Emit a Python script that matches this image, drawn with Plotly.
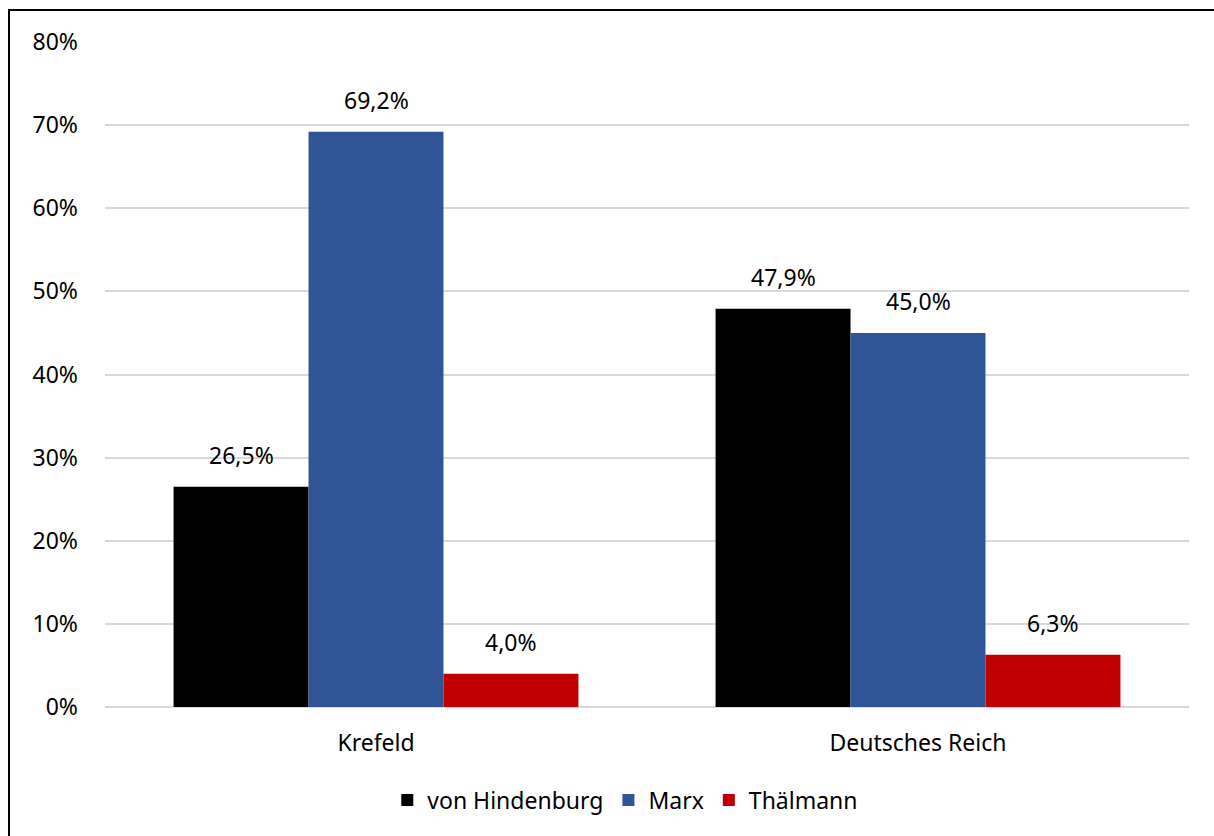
import plotly.graph_objects as go

categories = ["Krefeld", "Deutsches Reich"]
series_names = ["von Hindenburg", "Marx", "Thälmann"]
hindenburg = [26.5, 47.9]
marx = [69.2, 45.0]
thaelmann = [4.0, 6.3]
colors = ["#000000", "#2F5597", "#C00000"]
tick_vals = [0, 10, 20, 30, 40, 50, 60, 70, 80]
tick_text = ["0%", "10%", "20%", "30%", "40%", "50%", "60%", "70%", "80%"]

W, H = 1214, 836
ml, mr, mt, mb = 105, 25, 42, 129
pw, ph = W - ml - mr, H - mt - mb
BARGAP = 0.253
FONT = "Noto Sans, Open Sans, sans-serif"

fig = go.Figure()
all_series = [hindenburg, marx, thaelmann]
for name, vals, col in zip(series_names, all_series, colors):
    fig.add_trace(go.Bar(
        x=categories, y=vals, name=name, marker=dict(color=col, line=dict(width=0)),
        showlegend=False,
    ))
# legend entries as square markers
for name, col in zip(series_names, colors):
    fig.add_trace(go.Scatter(
        x=[categories[0]], y=[None], name=name, mode="markers",
        marker=dict(symbol="square", size=18, color=col), showlegend=True,
    ))

# data labels as annotations above bars
n = len(all_series)
bw = (1 - BARGAP) / n
annotations = []
for j, vals in enumerate(all_series):
    for i, v in enumerate(vals):
        annotations.append(dict(
            x=i + (j - (n - 1) / 2) * bw, y=v, xref="x", yref="y",
            text=f"{v:.1f}%".replace(".", ","), showarrow=False,
            yanchor="bottom", yshift=14, font=dict(size=23, color="#000000", family=FONT),
        ))

def px_x(p):
    return (p - ml) / pw

def px_y(p):
    return (H - mb - p) / ph

fig.update_layout(
    width=W, height=H,
    margin=dict(l=ml, r=mr, t=mt, b=mb),
    paper_bgcolor="white", plot_bgcolor="white",
    barmode="group", bargap=BARGAP, bargroupgap=0,
    font=dict(family=FONT, size=23, color="#000000"),
    showlegend=True,
    legend=dict(orientation="h", x=0.48, xanchor="center", y=px_y(800), yanchor="middle",
                font=dict(size=23), itemsizing="constant", traceorder="normal",
                itemwidth=30, entrywidthmode="pixels"),
    xaxis=dict(type="category", showline=False, ticks="", tickfont=dict(size=23),
               ticklabelstandoff=20),
    yaxis=dict(range=[0, 80], tickmode="array", tickvals=tick_vals, ticktext=tick_text,
               showgrid=True, gridcolor="#D9D9D9", gridwidth=1.5, zeroline=True,
               zerolinecolor="#D9D9D9", zerolinewidth=1.5, showline=False,
               tickfont=dict(size=23), ticklabelstandoff=26),
    annotations=annotations,
    shapes=[dict(type="rect", xref="paper", yref="paper",
                 x0=px_x(9), x1=px_x(1230), y0=px_y(850), y1=px_y(10),
                 line=dict(color="#000000", width=2), fillcolor="rgba(0,0,0,0)", layer="above")],
)

fig.write_html("out.html")
